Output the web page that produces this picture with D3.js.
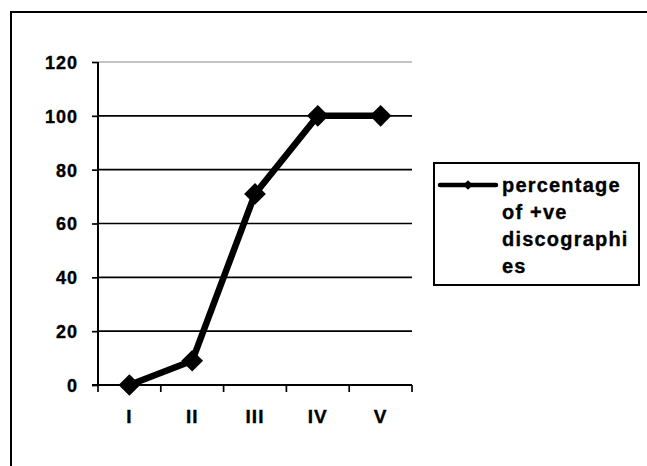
<!DOCTYPE html>
<html><head><meta charset="utf-8">
<script src="https://cdn.jsdelivr.net/npm/d3@7"></script>
<style>
html,body{margin:0;padding:0;background:#fff;}
svg text{font-family:"Liberation Sans",Arial,sans-serif;font-weight:bold;fill:#000;stroke:#000;stroke-width:0.35px;}
</style></head>
<body><svg id="c" width="647" height="466"></svg>
<script>
const categories = ["I","II","III","IV","V"];
const values = [0, 9, 71, 100, 100];
const yTicks = [0,20,40,60,80,100,120];
const seriesName = ["percentage","of +ve","discographi","es"];

(function(){
const svg = d3.select("#c");
// outer chart border (top & left visible)
svg.append("rect").attr("x",11).attr("y",12).attr("width",660).attr("height",480)
  .attr("fill","none").attr("stroke","#000").attr("stroke-width",2);

const pL=98, pR=412, pT=62, pB=385;
const x = d3.scaleBand().domain(categories).range([pL,pR]).padding(0);
const y = d3.scaleLinear().domain([0,120]).range([pB,pT]);

// gridlines
svg.append("g").selectAll("line").data(yTicks.filter(d=>d>0)).join("line")
  .attr("x1",pL).attr("x2",pR)
  .attr("y1",d=>y(d)).attr("y2",d=>y(d))
  .attr("stroke",d=>d===120?"#b0b0b0":"#000").attr("stroke-width",1.7);

// y axis
const ya = svg.append("g").attr("transform",`translate(${pL},0)`)
  .call(d3.axisLeft(y).tickValues(yTicks).tickSize(6).tickPadding(14));
ya.select(".domain").attr("stroke","#000").attr("stroke-width",2).attr("d",`M0,${pT}V${pB}`);
ya.selectAll(".tick line").attr("stroke","#000").attr("stroke-width",1.7);
ya.selectAll(".tick text").attr("font-size",18).attr("font-family","Liberation Sans, Arial, sans-serif")
  .attr("font-weight","bold").attr("letter-spacing","1px").attr("dy","0.36em");

// x axis
const xa = svg.append("g").attr("transform",`translate(0,${pB})`)
  .call(d3.axisBottom(x).tickSize(0).tickPadding(25));
xa.select(".domain").attr("stroke","#000").attr("stroke-width",2).attr("d",`M${pL-6},0H${pR}`);
xa.selectAll(".tick text").attr("font-size",19).attr("font-family","Liberation Sans, Arial, sans-serif")
  .attr("font-weight","bold").attr("letter-spacing","1px");
const bounds = [x(categories[0])].concat(categories.map(c=>x(c)+x.bandwidth()));
xa.append("g").selectAll("line").data(bounds).join("line")
  .attr("x1",d=>d).attr("x2",d=>d).attr("y1",0).attr("y2",7)
  .attr("stroke","#000").attr("stroke-width",1.7);

// series line
const cx = c => x(c)+x.bandwidth()/2;
const line = d3.line().x((d,i)=>cx(categories[i])).y(d=>y(d));
svg.append("path").datum(values).attr("d",line).attr("fill","none")
  .attr("stroke","#000").attr("stroke-width",6.5).attr("stroke-linejoin","round");
const diamond = d3.symbol().type(d3.symbolDiamond2).size(300);
svg.append("g").selectAll("path").data(values).join("path")
  .attr("transform",(d,i)=>`translate(${cx(categories[i])},${y(d)})`)
  .attr("d",diamond).attr("fill","#000");

// legend
const lg = svg.append("g");
lg.append("rect").attr("x",434).attr("y",163).attr("width",205).attr("height",122)
  .attr("fill","#fff").attr("stroke","#000").attr("stroke-width",2);
lg.append("line").attr("x1",440).attr("x2",496).attr("y1",185).attr("y2",185)
  .attr("stroke","#000").attr("stroke-width",4.5).attr("stroke-linecap","round");
lg.append("path").attr("transform","translate(468,185)")
  .attr("d",d3.symbol().type(d3.symbolDiamond2).size(60)).attr("fill","#000");
lg.selectAll("text").data(seriesName).join("text")
  .attr("x",502).attr("y",(d,i)=>185+i*27).attr("dy","0.36em")
  .attr("font-size",20).attr("letter-spacing","1.2px").text(d=>d);
})();
</script></body></html>
